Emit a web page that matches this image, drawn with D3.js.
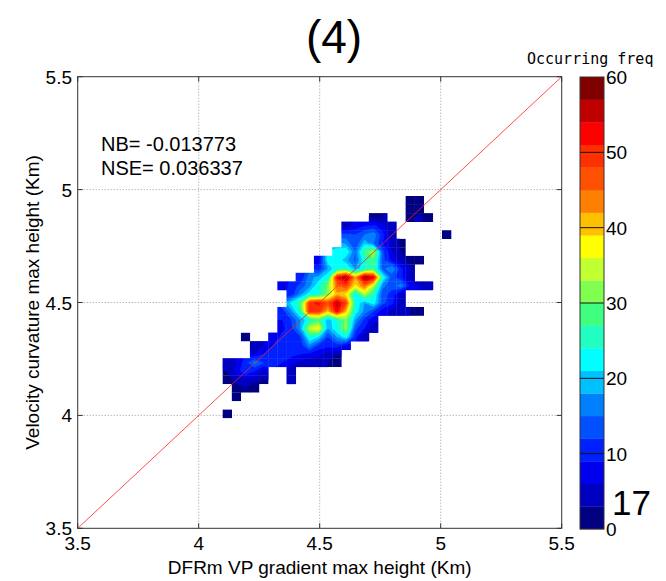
<!DOCTYPE html>
<html><head><meta charset="utf-8">
<script src="https://cdn.jsdelivr.net/npm/d3@7"></script>
<style>body{margin:0;background:#fff;} svg{display:block;font-family:"Liberation Sans",Arial,sans-serif;}</style>
</head><body>
<svg id="chart" width="666" height="581"></svg>
<script>
// ---------- data ----------
const title = "(4)";
const xLabel = "DFRm VP gradient max height (Km)";
const yLabel = "Velocity curvature max height (Km)";
const statsText = ["NB= -0.013773", "NSE= 0.036337"];
const cbTitle = "Occurring freq";
const cornerNote = "17";
const xTicks = [3.5, 4, 4.5, 5, 5.5];
const xTickLabels = ["3.5", "4", "4.5", "5", "5.5"];
const yTicks = [3.5, 4, 4.5, 5, 5.5];
const yTickLabels = ["3.5", "4", "4.5", "5", "5.5"];
const gridVals = [4, 4.5, 5];
const cbTicks = [0, 10, 20, 30, 40, 50, 60];
const levels = [0, 3, 6, 9, 12, 15, 18, 21, 24, 27, 30, 33, 36, 39, 42, 45, 48, 51, 54, 57, 60];
// histogram bins (Km)
const binX0 = 4.099, binY0 = 3.988, binW = 0.0378;
const nCols = 25, nRows = 26;
// occurrence counts: [row (0 = lowest), first column, counts...]
const segments = [
  [25, 20, [2, 1]],
  [24, 20, [3, 2]],
  [23, 16, [2, 3]], [23, 20, [2, 4, 1]],
  [22, 13, [4, 7, 9, 10, 7, 3]],
  [21, 13, [13, 12, 15, 17, 10, 4]], [21, 24, [1]],
  [20, 13, [17, 12, 20, 15, 9, 5, 2]],
  [19, 12, [22, 24, 15, 28, 34, 13, 6, 3]],
  [18, 10, [7, 23, 23, 19, 14, 24, 29, 13, 8, 4, 2, 1]],
  [17, 10, [10, 18, 24, 25, 18, 24, 27, 14, 18, 10, 4]],
  [16, 8, [9, 17, 19, 24, 52, 58, 42, 58, 54, 24, 13, 10, 4]],
  [15, 6, [7, 10, 13, 17, 24, 31, 45, 48, 38, 45, 34, 16, 13, 17, 8, 6, 3]],
  [14, 7, [10, 17, 23, 24, 31, 41, 38, 22, 34, 25, 13, 11, 4]],
  [13, 7, [22, 28, 50, 52, 47, 56, 48, 24, 18, 23, 13, 10, 4]],
  [12, 6, [10, 17, 26, 50, 49, 40, 53, 40, 23, 17, 12, 7, 5, 4, 3, 2]],
  [11, 6, [9, 12, 18, 24, 28, 19, 24, 31, 18, 11, 7]],
  [10, 6, [8, 11, 18, 35, 38, 18, 24, 32, 13, 9, 3]],
  [9, 2, [1]], [9, 5, [7, 10, 11, 12, 24, 21, 12, 18, 23, 10, 3]],
  [8, 3, [4, 6, 9, 10, 11, 10, 17, 11, 10, 11, 7]],
  [7, 3, [6, 9, 12, 12, 10, 9, 8, 7, 5, 3]],
  [6, 0, [3, 6, 11, 16, 12, 11, 9, 7, 5, 4, 3, 3, 2]],
  [5, 0, [3, 7, 12, 9, 5]], [5, 7, [4]],
  [4, 0, [2, 4, 5, 4, 3]], [4, 7, [3]],
  [3, 1, [2, 3, 1]],
  [2, 1, [1]],
  [0, 0, [1]]
];
const palette = ["#000080","#0000c0","#0000ee","#0020ff","#0050ff","#0080ff","#00c0ff","#00ffff",
  "#20ffc0","#40ff80","#80ff50","#c0ff30","#ffff00","#ffc000","#ff8000","#ff5000",
  "#ff3000","#ff0000","#c00000","#800000"];

// ---------- layout ----------
const svg = d3.select("#chart");
const L = 77.7, R = 561.7, T = 76.7, B = 528.3;
const xs = d3.scaleLinear().domain([3.5, 5.5]).range([L, R]);
const ys = d3.scaleLinear().domain([3.5, 5.5]).range([B, T]);
const cbX = 580, cbW = 24;
const cs = d3.scaleLinear().domain([0, 60]).range([529, 77]);

// grid (values top row first)
const values = new Array(nCols * nRows).fill(0);
const has = new Array(nCols * nRows).fill(false);
const present = [];
segments.forEach(([row, c0, vals]) => {
  vals.forEach((v, k) => {
    const c = c0 + k;
    const idx = c + (nRows - 1 - row) * nCols;
    values[idx] = v; has[idx] = true;
    present.push({row, col: c, v});
  });
});
// edge padding for the renderer: empty bins take the mean of occupied neighbours (they are clipped away)
const field = values.slice();
for (let j = 0; j < nRows; j++) for (let i = 0; i < nCols; i++) {
  const idx = i + j * nCols;
  if (has[idx]) continue;
  let s = 0, n = 0;
  [[1,0],[-1,0],[0,1],[0,-1]].forEach(([di, dj]) => {
    const ii = i + di, jj = j + dj;
    if (ii >= 0 && ii < nCols && jj >= 0 && jj < nRows && has[ii + jj * nCols]) { s += values[ii + jj * nCols]; n++; }
  });
  if (n) field[idx] = s / n;
}
const yTop = binY0 + nRows * binW;

// grid lines
const g = svg.append("g");
gridVals.forEach(v => {
  g.append("line").attr("x1", xs(v)).attr("x2", xs(v)).attr("y1", T).attr("y2", B)
    .attr("stroke", "#9a9a9a").attr("stroke-width", 1).attr("stroke-dasharray", "1,2");
  g.append("line").attr("y1", ys(v)).attr("y2", ys(v)).attr("x1", L).attr("x2", R)
    .attr("stroke", "#9a9a9a").attr("stroke-width", 1).attr("stroke-dasharray", "1,2");
});

// clip path = union of occupied bins
const defs = svg.append("defs");
const clip = defs.append("clipPath").attr("id", "occ");
const cellW = xs(binX0 + binW) - xs(binX0), cellH = ys(binY0) - ys(binY0 + binW);
present.forEach(d => {
  clip.append("rect")
    .attr("x", xs(binX0 + d.col * binW) - 0.2)
    .attr("y", ys(binY0 + (d.row + 1) * binW) - 0.2)
    .attr("width", cellW + 0.4).attr("height", cellH + 0.4);
});

const heat = svg.append("g").attr("clip-path", "url(#occ)");
present.forEach(d => {
  heat.append("rect")
    .attr("x", xs(binX0 + d.col * binW) - 0.2)
    .attr("y", ys(binY0 + (d.row + 1) * binW) - 0.2)
    .attr("width", cellW + 0.4).attr("height", cellH + 0.4)
    .attr("fill", palette[0]);
});
const contours = d3.contours().size([nCols, nRows]).thresholds(levels.slice(1, 20))(field);
const proj = d3.geoTransform({
  point: function(x, y) { this.stream.point(xs(binX0 + x * binW), ys(yTop - y * binW)); }
});
const path = d3.geoPath(proj);
heat.selectAll("path.lvl").data(contours).join("path")
  .attr("class", "lvl")
  .attr("d", path)
  .attr("fill", d => palette[Math.round(d.value / 3)])
  .attr("stroke", d => palette[Math.round(d.value / 3)])
  .attr("stroke-width", 0.3);

// 1:1 line
svg.append("line").attr("x1", xs(3.5)).attr("y1", ys(3.5)).attr("x2", xs(5.5)).attr("y2", ys(5.5))
  .attr("stroke", "#ff2020").attr("stroke-width", 0.8);

// axes box and ticks
svg.append("rect").attr("x", L).attr("y", T).attr("width", R - L).attr("height", B - T)
  .attr("fill", "none").attr("stroke", "#333").attr("stroke-width", 1);
xTicks.forEach(v => {
  svg.append("line").attr("x1", xs(v)).attr("x2", xs(v)).attr("y1", B).attr("y2", B - 5).attr("stroke", "#333");
  svg.append("line").attr("x1", xs(v)).attr("x2", xs(v)).attr("y1", T).attr("y2", T + 5).attr("stroke", "#333");
});
yTicks.forEach(v => {
  svg.append("line").attr("y1", ys(v)).attr("y2", ys(v)).attr("x1", L).attr("x2", L + 5).attr("stroke", "#333");
  svg.append("line").attr("y1", ys(v)).attr("y2", ys(v)).attr("x1", R).attr("x2", R - 5).attr("stroke", "#333");
});
xTicks.forEach((v, i) => {
  svg.append("text").attr("x", xs(v)).attr("y", 550).attr("text-anchor", "middle")
    .attr("font-size", 19).text(xTickLabels[i]);
});
yTicks.forEach((v, i) => {
  svg.append("text").attr("x", 72).attr("y", ys(v) + 7).attr("text-anchor", "end")
    .attr("font-size", 19).text(yTickLabels[i]);
});
svg.append("text").attr("x", (L + R) / 2).attr("y", 574).attr("text-anchor", "middle")
  .attr("font-size", 19).text(xLabel);
svg.append("text").attr("transform", `translate(39,${(T + B) / 2}) rotate(-90)`)
  .attr("text-anchor", "middle").attr("font-size", 19).text(yLabel);
svg.append("text").attr("x", 334).attr("y", 53).attr("text-anchor", "middle")
  .attr("font-size", 46).text(title);
statsText.forEach((t, i) => {
  svg.append("text").attr("x", 101).attr("y", 151 + i * 23.5).attr("font-size", 20).text(t);
});

// colorbar
for (let k = 0; k < palette.length; k++) {
  svg.append("rect").attr("x", cbX).attr("width", cbW)
    .attr("y", cs(levels[k + 1])).attr("height", cs(levels[k]) - cs(levels[k + 1]) + 0.3)
    .attr("fill", palette[k]);
}
cbTicks.slice(1, -1).forEach(v => {
  svg.append("line").attr("x1", cbX).attr("x2", cbX + cbW).attr("y1", cs(v)).attr("y2", cs(v))
    .attr("stroke", "#111").attr("stroke-width", 1);
});
svg.append("rect").attr("x", cbX).attr("y", cs(60)).attr("width", cbW).attr("height", cs(0) - cs(60))
  .attr("fill", "none").attr("stroke", "#333").attr("stroke-width", 1);
cbTicks.forEach(v => {
  svg.append("text").attr("x", cbX + cbW + 2).attr("y", cs(v) + 7).attr("font-size", 19).text(v);
});
svg.append("text").attr("x", 527).attr("y", 64).attr("font-family", "'DejaVu Sans Mono',monospace")
  .attr("font-size", 15).text(cbTitle);
svg.append("text").attr("x", 612).attr("y", 515).attr("font-size", 35).text(cornerNote);
</script>
</body></html>
